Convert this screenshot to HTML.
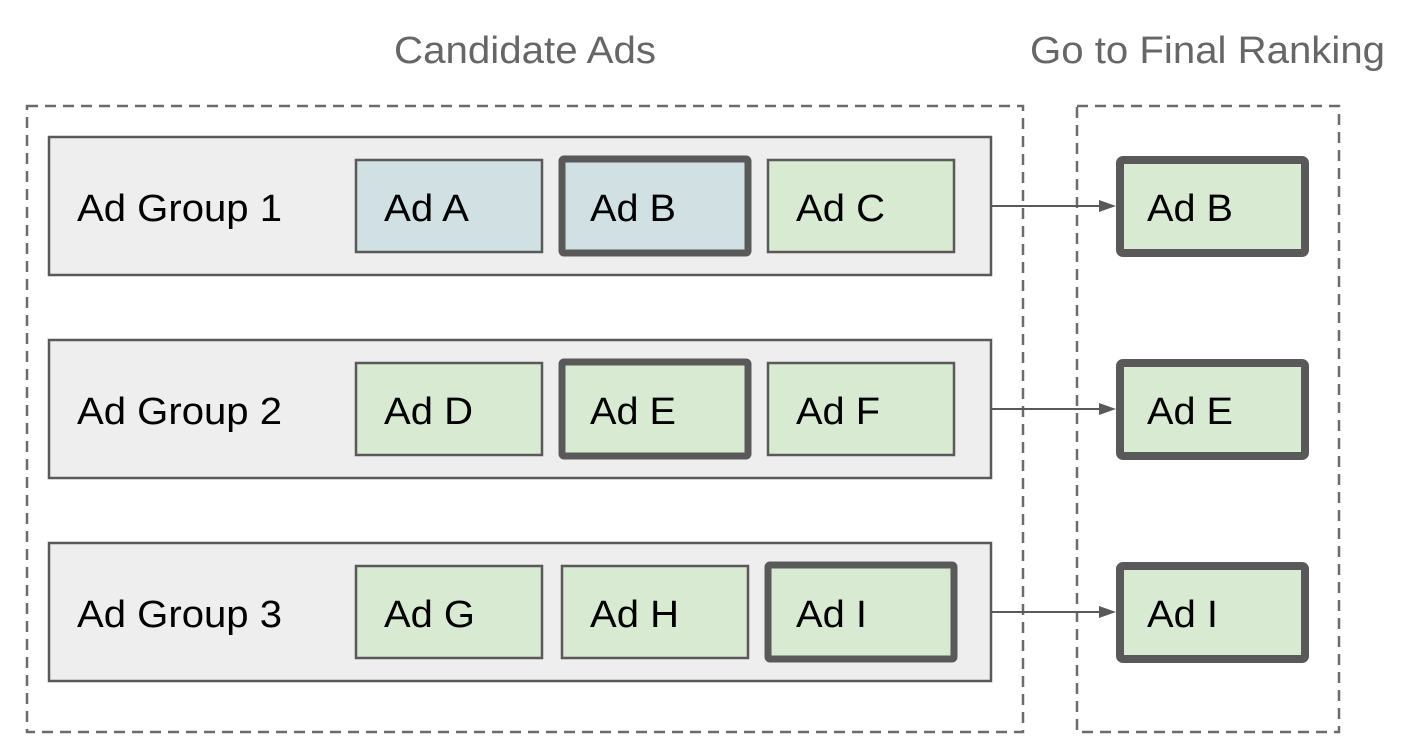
<!DOCTYPE html>
<html><head><style>html,body{margin:0;padding:0;background:#fff}</style></head>
<body>
<svg width="1406" height="736" xmlns="http://www.w3.org/2000/svg" font-family="Liberation Sans, Arial, sans-serif">
<text x="394" y="63" font-size="38" fill="#666" textLength="262" lengthAdjust="spacingAndGlyphs">Candidate Ads</text>
<text x="1030" y="63" font-size="38" fill="#666" textLength="355" lengthAdjust="spacingAndGlyphs">Go to Final Ranking</text>
<rect x="27" y="106" width="996" height="626" fill="none" stroke="#6b6b6b" stroke-width="2.5" stroke-dasharray="11,7"/>
<rect x="1077" y="106" width="262" height="626" fill="none" stroke="#6b6b6b" stroke-width="2.5" stroke-dasharray="11,7"/>
<g font-size="38" fill="#000" lengthAdjust="spacingAndGlyphs">
<g>
<rect x="49" y="137" width="942" height="138" fill="#eeeeee" stroke="#595959" stroke-width="2.5"/>
<text x="77" y="221" textLength="205" lengthAdjust="spacingAndGlyphs">Ad Group 1</text>
<rect x="356" y="160" width="186" height="92" fill="#d0e0e3" stroke="#595959" stroke-width="2.5"/>
<text x="384" y="221" textLength="85" lengthAdjust="spacingAndGlyphs">Ad A</text>
<rect x="562" y="159" width="186" height="94" rx="2" fill="#d0e0e3" stroke="#595959" stroke-width="7"/>
<text x="590" y="221" textLength="86" lengthAdjust="spacingAndGlyphs">Ad B</text>
<rect x="768" y="160" width="186" height="92" fill="#d9ead3" stroke="#595959" stroke-width="2.5"/>
<text x="796" y="221" textLength="89" lengthAdjust="spacingAndGlyphs">Ad C</text>
</g>
<g>
<rect x="49" y="340" width="942" height="138" fill="#eeeeee" stroke="#595959" stroke-width="2.5"/>
<text x="77" y="424" textLength="205" lengthAdjust="spacingAndGlyphs">Ad Group 2</text>
<rect x="356" y="363" width="186" height="92" fill="#d9ead3" stroke="#595959" stroke-width="2.5"/>
<text x="384" y="424" textLength="89" lengthAdjust="spacingAndGlyphs">Ad D</text>
<rect x="562" y="362" width="186" height="94" rx="2" fill="#d9ead3" stroke="#595959" stroke-width="7"/>
<text x="590" y="424" textLength="86" lengthAdjust="spacingAndGlyphs">Ad E</text>
<rect x="768" y="363" width="186" height="92" fill="#d9ead3" stroke="#595959" stroke-width="2.5"/>
<text x="796" y="424" textLength="84" lengthAdjust="spacingAndGlyphs">Ad F</text>
</g>
<g>
<rect x="49" y="543" width="942" height="138" fill="#eeeeee" stroke="#595959" stroke-width="2.5"/>
<text x="77" y="627" textLength="205" lengthAdjust="spacingAndGlyphs">Ad Group 3</text>
<rect x="356" y="566" width="186" height="92" fill="#d9ead3" stroke="#595959" stroke-width="2.5"/>
<text x="384" y="627" textLength="91" lengthAdjust="spacingAndGlyphs">Ad G</text>
<rect x="562" y="566" width="186" height="92" fill="#d9ead3" stroke="#595959" stroke-width="2.5"/>
<text x="590" y="627" textLength="89" lengthAdjust="spacingAndGlyphs">Ad H</text>
<rect x="768" y="565" width="186" height="94" rx="2" fill="#d9ead3" stroke="#595959" stroke-width="7"/>
<text x="796" y="627" textLength="71" lengthAdjust="spacingAndGlyphs">Ad I</text>
</g>
<rect x="1120" y="160" width="185" height="93" rx="3" fill="#d9ead3" stroke="#595959" stroke-width="8"/>
<text x="1147" y="221" textLength="86" lengthAdjust="spacingAndGlyphs">Ad B</text>
<rect x="1120" y="363" width="185" height="93" rx="3" fill="#d9ead3" stroke="#595959" stroke-width="8"/>
<text x="1147" y="424" textLength="86" lengthAdjust="spacingAndGlyphs">Ad E</text>
<rect x="1120" y="566" width="185" height="93" rx="3" fill="#d9ead3" stroke="#595959" stroke-width="8"/>
<text x="1147" y="627" textLength="71" lengthAdjust="spacingAndGlyphs">Ad I</text>
</g>
<g stroke="#595959" stroke-width="2">
<line x1="992" y1="206" x2="1100" y2="206"/>
<line x1="992" y1="409" x2="1100" y2="409"/>
<line x1="992" y1="612" x2="1100" y2="612"/>
</g>
<g fill="#595959">
<path d="M1099,200 L1116,206 L1099,212 z"/>
<path d="M1099,403 L1116,409 L1099,415 z"/>
<path d="M1099,606 L1116,612 L1099,618 z"/>
</g>
</svg>
</body></html>
